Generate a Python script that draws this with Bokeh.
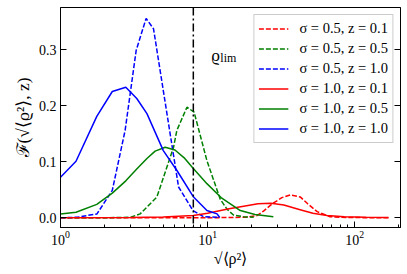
from bokeh.plotting import figure
from bokeh.models import (Span, Legend, LegendItem, FixedTicker, PrintfTickFormatter,
                          LinearAxis, CustomJSTickFormatter)
from bokeh.core.properties import value
from bokeh.embed import file_html
from bokeh.resources import INLINE

# ---- data ----
x_s05_z01 = [1.0, 10.0, 18.0, 21.7, 24.0, 27.5, 32.0, 36.6, 42.8, 48.0, 55.6, 68.0, 90.0, 170.0]
y_s05_z01 = [0.0, 0.0, 0.001, 0.004, 0.012, 0.025, 0.036, 0.041, 0.037, 0.025, 0.011, 0.002, 0.0005, 0.0]

x_s05_z05 = [1.0, 2.0, 3.0, 3.48, 4.52, 5.87, 6.18, 7.24, 8.1, 9.9, 11.0, 12.2, 13.6, 15.0, 17.5, 20.6]
y_s05_z05 = [0.0, 0.0, 0.001, 0.007, 0.037, 0.126, 0.156, 0.1975, 0.1886, 0.102, 0.067, 0.033, 0.015, 0.005, 0.002, 0.001]

x_s05_z10 = [1.0, 1.3, 1.77, 2.25, 2.75, 3.27, 3.82, 4.29, 6.35, 7.95, 9.4, 11.9]
y_s05_z10 = [0.0, 0.001, 0.007, 0.049, 0.156, 0.299, 0.356, 0.3375, 0.055, 0.013, 0.002, 0.001]

x_s10_z01 = [1.0, 3.0, 5.0, 8.0, 10.0, 14.0, 18.0, 22.0, 27.0, 33.0, 42.0, 52.0, 65.0, 85.0, 120.0, 170.0]
y_s10_z01 = [0.0, 0.0005, 0.0015, 0.004, 0.008, 0.016, 0.021, 0.025, 0.026, 0.023, 0.015, 0.008, 0.004, 0.002, 0.001, 0.0005]

x_s10_z05 = [1.0, 1.275, 1.765, 2.25, 2.78, 3.3, 3.87, 4.4, 5.15, 6.0, 7.0, 8.0, 9.9, 12.5, 16.7, 21.0, 28.0]
y_s10_z05 = [0.007, 0.01, 0.024, 0.044, 0.066, 0.087, 0.106, 0.119, 0.126, 0.121, 0.106, 0.088, 0.061, 0.035, 0.013, 0.006, 0.002]

x_s10_z10 = [1.0, 1.275, 1.765, 2.25, 2.78, 3.3, 3.87, 5.0, 6.19, 8.03, 9.9, 11.6, 12.1]
y_s10_z10 = [0.0725, 0.101, 0.181, 0.2255, 0.233, 0.213, 0.186, 0.12, 0.0845, 0.037, 0.013, 0.007, 0.0005]

labels = ["σ = 0.5, z = 0.1", "σ = 0.5, z = 0.5", "σ = 0.5, z = 1.0",
          "σ = 1.0, z = 0.1", "σ = 1.0, z = 0.5", "σ = 1.0, z = 1.0"]

rho_lim = 8.0
x_major = [1, 10, 100]
x_minor = [2, 3, 4, 5, 6, 7, 8, 9, 20, 30, 40, 50, 60, 70, 80, 90, 200]
y_major = [0.0, 0.1, 0.2, 0.3]

FONT = "Liberation Serif"

p = figure(width=406, height=273, x_axis_type="log",
           x_range=(1, 205), y_range=(-0.0173, 0.3755),
           output_backend="svg", toolbar_location=None,
           min_border_left=60, min_border_right=6, min_border_top=7, min_border_bottom=46)
p.xgrid.visible = False
p.ygrid.visible = False
p.outline_line_color = "black"
p.outline_line_alpha = 1.0
p.outline_line_width = 1
p.background_fill_color = "white"
p.border_fill_color = "white"

series = [
    (x_s05_z01, y_s05_z01, "#ff0000", "5 2"),
    (x_s05_z05, y_s05_z05, "#008000", "5 2"),
    (x_s05_z10, y_s05_z10, "#0000ff", "5 2"),
    (x_s10_z01, y_s10_z01, "#ff0000", "solid"),
    (x_s10_z05, y_s10_z05, "#008000", "solid"),
    (x_s10_z10, y_s10_z10, "#0000ff", "solid"),
]
items = []
for (xs, ys, col, dash), lab in zip(series, labels):
    r = p.line(xs, ys, line_color=col, line_width=1.5, line_dash=dash)
    items.append(LegendItem(label=lab, renderers=[r]))

p.add_layout(Span(location=rho_lim, dimension="height", line_color="black",
                  line_width=1.5, line_dash="8 3 2 3"))

p.text(x=[10.6], y=[0.29], text=["ϱ"], text_font=value(FONT), text_font_size="17px",
       text_baseline="alphabetic", text_color="black")
p.text(x=[10.6], y=[0.29], text=["lim"], text_font=value(FONT), text_font_size="12px",
       text_baseline="alphabetic", text_color="black", x_offset=9, y_offset=3)

# axes
xa = p.xaxis[0]
xa.ticker = FixedTicker(ticks=x_major, minor_ticks=x_minor)
ya = p.yaxis[0]
ya.ticker = FixedTicker(ticks=y_major)
ya.formatter = PrintfTickFormatter(format="%.1f")

for ax in (xa, ya):
    ax.axis_line_color = "black"
    ax.major_tick_line_color = "black"
    ax.minor_tick_line_color = "black" if ax is xa else None
    ax.major_tick_in = 6
    ax.major_tick_out = 0
    ax.minor_tick_in = 3
    ax.minor_tick_out = 0
    ax.major_label_text_font = FONT
    ax.major_label_text_font_size = "14px"
    ax.major_label_text_color = "black"
    ax.axis_label_text_font = FONT
    ax.axis_label_text_font_size = "16px"
    ax.axis_label_text_font_style = "normal"
    ax.axis_label_text_color = "black"

xa.axis_label = "√⟨ρ²⟩"
xa.major_label_standoff = 3
xa.axis_label_standoff = 2
ya.axis_label = "ℱ(√⟨ϱ²⟩, z)"
ya.axis_label_text_font_size = "17.5px"
ya.major_label_standoff = 4
ya.axis_label_standoff = 3

ra = LinearAxis(ticker=FixedTicker(ticks=y_major),
                formatter=CustomJSTickFormatter(code="return ''"),
                major_tick_in=6, major_tick_out=0, minor_tick_line_color=None,
                axis_line_color="black", major_tick_line_color="black")
p.add_layout(ra, "right")

legend = Legend(items=items, location="top_right", margin=7, padding=4, spacing=1,
                glyph_width=30, glyph_height=19, label_height=19, label_standoff=11,
                label_text_font=FONT, label_text_font_size="14.5px", label_text_color="black",
                border_line_color="#cccccc", border_line_width=1, border_line_alpha=1.0,
                background_fill_color="white", background_fill_alpha=0.8)
p.add_layout(legend, "center")

open("out.html", "w").write(file_html(p, INLINE))
